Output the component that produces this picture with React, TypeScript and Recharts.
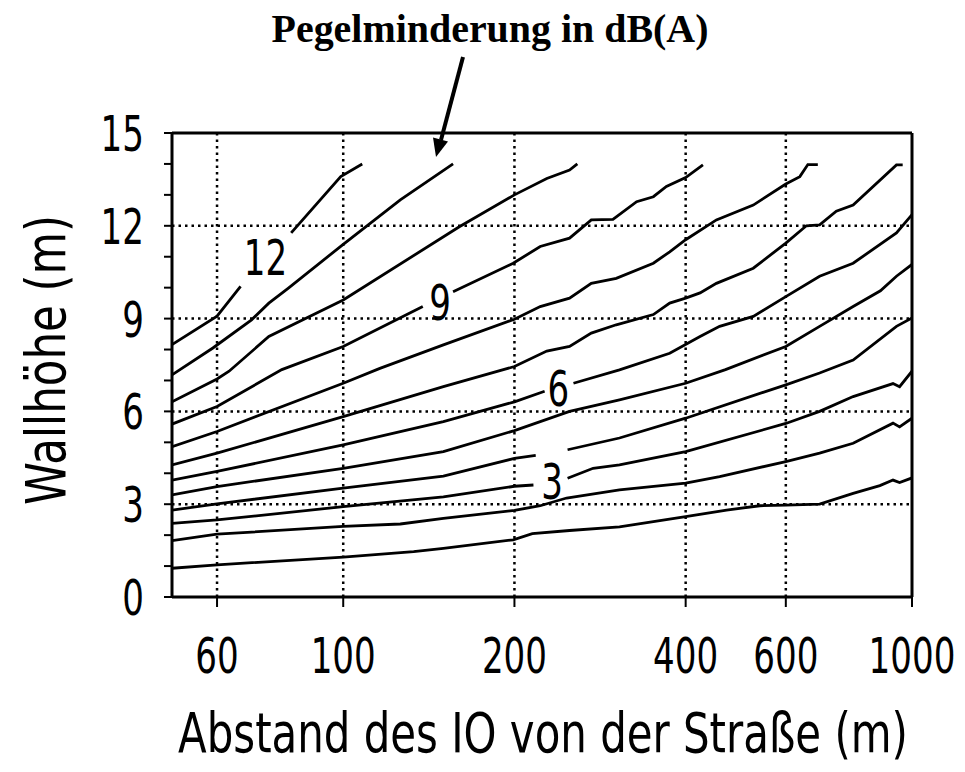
import React from 'react';
import { LineChart, Line, XAxis, YAxis, ReferenceLine, ReferenceDot } from 'recharts';

// contour lines: [distance in m, wall height in m], null = gap for the label
type Pt = [number, number | null];

const db1: Pt[] = [[50, 0.93], [60, 1.04], [100, 1.29], [133, 1.47], [150, 1.57], [199, 1.85], [215, 2.05], [250, 2.15], [306, 2.27], [400, 2.6], [472, 2.81], [540, 2.95], [600, 2.97], [688, 3.0], [788, 3.35], [878, 3.6], [926, 3.78], [951, 3.7], [1000, 3.85]];
const db2: Pt[] = [[50, 1.82], [60, 2.03], [100, 2.28], [126, 2.36], [150, 2.54], [200, 2.8], [222, 2.95], [247, 3.2], [306, 3.46], [400, 3.68], [459, 3.89], [600, 4.38], [688, 4.65], [788, 4.97], [926, 5.62], [951, 5.5], [1000, 5.78]];
const db3: Pt[] = [[50, 2.38], [60, 2.49], [100, 2.92], [150, 3.24], [200, 3.58], [216, 3.62], [232, null], [248, 3.84], [275, 4.16], [306, 4.27], [400, 4.7], [600, 5.61], [688, 6.0], [788, 6.48], [926, 6.9], [951, 6.8], [1000, 7.3]];
const db4: Pt[] = [[50, 2.81], [60, 3.01], [100, 3.52], [150, 3.91], [200, 4.48], [218, 4.58], [232, null], [248, 4.76], [306, 5.14], [400, 5.78], [600, 6.86], [688, 7.24], [788, 7.66], [939, 8.75], [1000, 9.02]];
const db5: Pt[] = [[50, 3.3], [60, 3.57], [100, 4.16], [150, 4.7], [200, 5.38], [250, 6.0], [306, 6.37], [400, 6.91], [470, 7.35], [600, 8.1], [688, 8.75], [788, 9.39], [880, 9.9], [939, 10.37], [1000, 10.75]];
const db6: Pt[] = [[50, 3.78], [60, 4.06], [100, 4.92], [150, 5.67], [200, 6.31], [226, 6.65], [240, null], [254, 6.91], [306, 7.34], [375, 7.88], [424, 8.42], [459, 8.75], [526, 9.07], [600, 9.71], [688, 10.37], [788, 10.79], [939, 11.77], [1000, 12.36]];
const db7: Pt[] = [[50, 4.27], [60, 4.65], [100, 5.83], [150, 6.8], [200, 7.45], [228, 7.95], [250, 8.1], [273, 8.53], [302, 8.8], [351, 9.13], [375, 9.5], [400, 9.66], [424, 9.83], [453, 10.14], [526, 10.63], [600, 11.44], [652, 12.0], [688, 12.03], [736, 12.47], [788, 12.67], [939, 13.97], [963, 13.97]];
const db8: Pt[] = [[50, 4.86], [60, 5.35], [100, 6.91], [116, 7.39], [150, 8.15], [200, 8.98], [222, 9.39], [250, 9.66], [273, 10.14], [302, 10.3], [351, 10.79], [375, 11.16], [400, 11.55], [453, 12.19], [526, 12.67], [600, 13.35], [635, 13.59], [656, 13.98], [683, 13.98]];
const db9: Pt[] = [[50, 5.59], [60, 6.16], [78, 7.35], [100, 8.1], [138, 9.39], [148, null], [156, 9.87], [199, 10.79], [222, 11.33], [250, 11.6], [273, 12.19], [298, 12.21], [328, 12.78], [351, 12.94], [370, 13.27], [400, 13.56], [429, 13.97]];
const db10: Pt[] = [[50, 6.31], [60, 7.05], [63, 7.3], [74, 8.42], [100, 9.6], [160, 11.97], [200, 13.0], [228, 13.53], [250, 13.8], [258, 14.0]];
const db11: Pt[] = [[50, 7.18], [59, 8.05], [69, 8.96], [74, 9.5], [80, 9.98], [100, 11.4], [126, 12.84], [156, 14.0]];
const db12: Pt[] = [[50, 8.16], [60, 9.08], [66, 10.04], [73, null], [81, 11.77], [99, 13.59], [108, 14.0]];

const contours = [db1, db2, db3, db4, db5, db6, db7, db8, db9, db10, db11, db12];

// contour labels: [text, distance, height]
const contourLabels: [string, number, number][] = [['12', 73, 11.0], ['9', 148, 9.55], ['6', 239, 6.76], ['3', 233, 3.75]];

const xTicks = [60, 100, 200, 400, 600, 1000];
const yTicks = [0, 1, 2, 3, 4, 5, 6, 7, 8, 9, 10, 11, 12, 13, 14, 15];
const xGrid = [60, 100, 200, 400, 600];
const yGrid = [3, 6, 9, 12];

const sans = "'DejaVu Sans', 'Liberation Sans', sans-serif";
const serif = "'Liberation Serif', 'Times New Roman', serif";
// the original digits are condensed, about 21.7 px each
const digitW = 21.7;

const toData = (pts: Pt[]) => pts.map(([x, y]) => ({ x, y }));

// no condensed font installed: measure the text and squeeze it horizontally
let ctx: CanvasRenderingContext2D | null = null;
const measure = (s: string, font: string) => {
  if (!ctx) ctx = document.createElement('canvas').getContext('2d');
  if (!ctx) return s.length * 30;
  ctx.font = font;
  return ctx.measureText(s).width;
};

const FitText = ({ x, y, text, width, size, family = sans, weight = 'normal', anchor = 'middle', rotate = 0, dy = 0 }: any) => {
  const w = measure(text, `${weight} ${size}px ${family}`);
  const sx = width / w;
  return (
    <text
      transform={`translate(${x} ${y}) rotate(${rotate}) scale(${sx} 1)`}
      x={0}
      y={dy}
      textAnchor={anchor}
      fontFamily={family}
      fontWeight={weight}
      fontSize={size}
      fill="#000"
    >
      {text}
    </text>
  );
};

const XTick = (props: any) => {
  const { x, y, payload } = props;
  const s = String(payload.value);
  return <FitText x={x} y={y + 36} text={s} width={s.length * digitW} size={50} />;
};

const YTick = (props: any) => {
  const { x, y, payload } = props;
  if (payload.value % 3 !== 0) return <g />;
  const s = String(payload.value);
  return <FitText x={x} y={y + 18} text={s} width={s.length * digitW} size={50} anchor="end" />;
};

const App: React.FC = () => {
  return (
    <div style={{ position: 'absolute', top: 0, left: 0, width: 965, height: 772, background: '#fff' }}>
      <LineChart width={965} height={772} margin={{ top: 133, right: 53, bottom: 0, left: 0 }}>
        <XAxis
          dataKey="x"
          type="number"
          scale="log"
          domain={[50, 1000]}
          allowDataOverflow
          ticks={xTicks}
          height={175}
          tickSize={10}
          tickMargin={30}
          tick={<XTick />}
          axisLine={{ stroke: '#000', strokeWidth: 3 }}
          tickLine={{ stroke: '#000', strokeWidth: 2 }}
          label={{
            content: () => <FitText x={543} y={752} text="Abstand des IO von der Straße (m)" width={730} size={55} />,
          }}
        />
        <YAxis
          type="number"
          domain={[0, 15]}
          ticks={yTicks}
          interval={0}
          width={172}
          tickSize={8}
          tickMargin={20}
          tick={<YTick />}
          axisLine={{ stroke: '#000', strokeWidth: 3 }}
          tickLine={{ stroke: '#000', strokeWidth: 2 }}
          label={{
            content: () => <FitText x={65} y={360} rotate={-90} text="Wallhöhe (m)" width={290} size={55} />,
          }}
        />

        {xGrid.map(v => (
          <ReferenceLine key={'gx' + v} x={v} stroke="#000" strokeWidth={2.5} strokeDasharray="2.5 4" />
        ))}
        {yGrid.map(v => (
          <ReferenceLine key={'gy' + v} y={v} stroke="#000" strokeWidth={2.5} strokeDasharray="2.5 4" />
        ))}
        <ReferenceLine y={15} stroke="#000" strokeWidth={3} />
        <ReferenceLine x={1000} stroke="#000" strokeWidth={3} />

        {contours.map((c, i) => (
          <Line
            key={'db' + (i + 1)}
            data={toData(c)}
            dataKey="y"
            type="linear"
            stroke="#000"
            strokeWidth={2.8}
            dot={false}
            activeDot={false}
            connectNulls={false}
            isAnimationActive={false}
          />
        ))}

        {contourLabels.map(([t, x, y]) => (
          <ReferenceDot
            key={'lbl' + t}
            x={x}
            y={y}
            r={0}
            shape={(p: any) => <FitText x={p.cx} y={p.cy + 18} text={t} width={t.length * digitW} size={50} />}
          />
        ))}
      </LineChart>

      <svg width={965} height={170} style={{ position: 'absolute', top: 0, left: 0, pointerEvents: 'none' }}>
        <FitText x={490} y={42} text="Pegelminderung in dB(A)" width={437} size={40} family={serif} weight="bold" />
        <line x1={463} y1={57} x2={441} y2={140} stroke="#000" strokeWidth={4} />
        <polygon points="436,157 448,141.5 433,137.5" fill="#000" />
      </svg>
    </div>
  );
};

export default App;
